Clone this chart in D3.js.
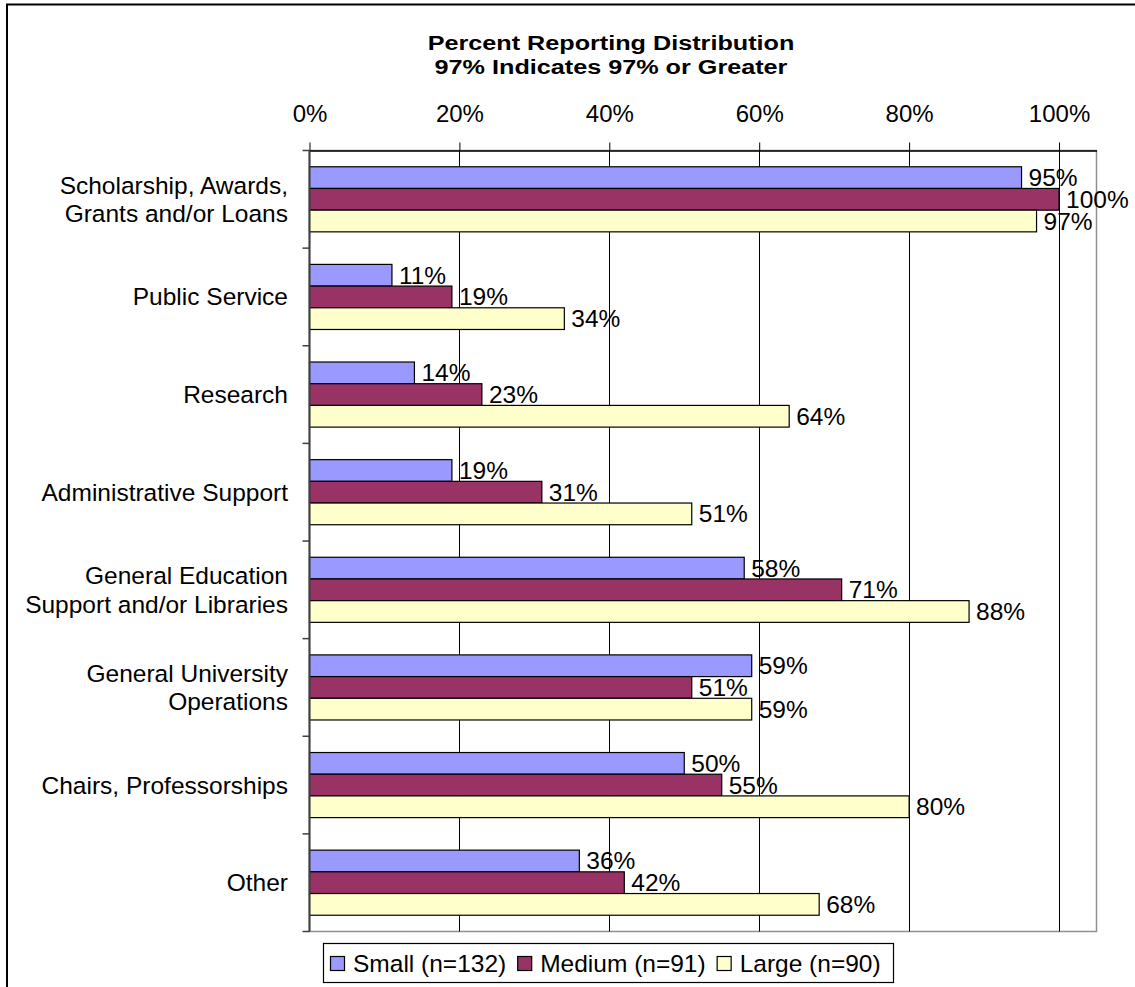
<!DOCTYPE html>
<html>
<head>
<meta charset="utf-8">
<script src="https://cdn.jsdelivr.net/npm/d3@7"></script>
<style>
  html, body { margin: 0; padding: 0; background: #fff; }
  svg { display: block; }
  text { font-family: Arial, "Liberation Sans", sans-serif; fill: #000; }
</style>
</head>
<body>
<svg id="chart" width="1135" height="987"></svg>
<script>
// Funding purposes reported, by institution size
const categories = [
  "Scholarship, Awards,\nGrants and/or Loans",
  "Public Service",
  "Research",
  "Administrative Support",
  "General Education\nSupport and/or Libraries",
  "General University\nOperations",
  "Chairs, Professorships",
  "Other"
];
const seriesNames = ["Small (n=132)", "Medium (n=91)", "Large (n=90)"];
const seriesColors = ["#9999FF", "#993366", "#FFFFCC"];
const small  = [0.95, 0.11, 0.14, 0.19, 0.58, 0.59, 0.50, 0.36];
const medium = [1.00, 0.19, 0.23, 0.31, 0.71, 0.51, 0.55, 0.42];
const large  = [0.97, 0.34, 0.64, 0.51, 0.88, 0.59, 0.80, 0.68];
const tickValues = [0, 0.2, 0.4, 0.6, 0.8, 1.0];
const titleLines = ["Percent Reporting Distribution", "97% Indicates 97% or Greater"];

const seriesValues = [small, medium, large];
const fontSize = 24.5;

const svg = d3.select("#chart");
const plot = { left: 309.5, right: 1096.5, top: 150.5, bottom: 931.5 };

// Chart frame
svg.append("rect")
  .attr("x", 7).attr("y", 4.5).attr("width", 1200).attr("height", 1100)
  .attr("fill", "#fff").attr("stroke", "#000").attr("stroke-width", 2);

const x = d3.scaleLinear().domain([0, 1.05]).range([plot.left, plot.right]);
const y0 = d3.scaleBand().domain(d3.range(categories.length)).range([plot.top, plot.bottom]);
const y1 = d3.scaleBand().domain(d3.range(seriesNames.length))
  .range([0, y0.bandwidth()]).paddingInner(0).paddingOuter(0.75);

// Plot area border
svg.append("rect")
  .attr("x", plot.left).attr("y", plot.top)
  .attr("width", plot.right - plot.left).attr("height", plot.bottom - plot.top)
  .attr("fill", "#fff").attr("stroke", "#909090").attr("stroke-width", 1.5);

// Vertical gridlines
svg.append("g").selectAll("line")
  .data(tickValues.filter(d => d > 0))
  .join("line")
  .attr("x1", d => Math.round(x(d)) + 0.5).attr("x2", d => Math.round(x(d)) + 0.5)
  .attr("y1", plot.top).attr("y2", plot.bottom)
  .attr("stroke", "#000").attr("stroke-width", 1);

// Bars
const groups = svg.append("g").selectAll("g")
  .data(categories.map((c, i) => i))
  .join("g")
  .attr("transform", i => `translate(0,${y0(i)})`);

groups.selectAll("rect")
  .data(i => seriesValues.map((vals, s) => ({ s, v: vals[i] })))
  .join("rect")
  .attr("x", plot.left)
  .attr("y", d => y1(d.s))
  .attr("width", d => x(d.v) - x(0))
  .attr("height", y1.bandwidth())
  .attr("fill", d => seriesColors[d.s])
  .attr("stroke", "#000").attr("stroke-width", 1.2);

// Value labels
groups.selectAll("text")
  .data(i => seriesValues.map((vals, s) => ({ s, v: vals[i] })))
  .join("text")
  .attr("x", d => x(d.v) + 7)
  .attr("y", d => y1(d.s) + y1.bandwidth() / 2 + 8.5)
  .attr("font-size", fontSize)
  .text(d => d3.format(".0%")(d.v));

// Value axis along the top
const xAxis = d3.axisTop(x).tickValues(tickValues)
  .tickFormat(d3.format(".0%")).tickSize(8).tickSizeOuter(0).tickPadding(21);
const gx = svg.append("g").attr("transform", `translate(0,${plot.top})`).call(xAxis);
gx.select(".domain").attr("stroke", "#000").attr("stroke-width", 1.5);
gx.selectAll(".tick line").attr("stroke", "#000");
gx.selectAll(".tick text").attr("font-size", 24).attr("font-family", null).attr("fill", "#000");

// Category axis on the left
svg.append("line")
  .attr("x1", plot.left).attr("x2", plot.left)
  .attr("y1", plot.top).attr("y2", plot.bottom)
  .attr("stroke", "#404040").attr("stroke-width", 2);
const boundaries = categories.map((c, i) => y0(i)).concat([y0.range()[1]]);
svg.append("g").selectAll("line")
  .data(boundaries)
  .join("line")
  .attr("x1", plot.left - 7).attr("x2", plot.left)
  .attr("y1", d => d).attr("y2", d => d)
  .attr("stroke", "#404040").attr("stroke-width", 1.5);

const catLabels = svg.append("g").selectAll("text")
  .data(categories)
  .join("text")
  .attr("text-anchor", "end")
  .attr("font-size", fontSize)
  .attr("transform", (c, i) => `translate(288,${y0(i) + y0.bandwidth() / 2})`);
catLabels.each(function(c) {
  const lines = c.split("\n");
  const lh = 28.5;
  const start = -((lines.length - 1) * lh) / 2 + 8.5;
  d3.select(this).selectAll("tspan")
    .data(lines)
    .join("tspan")
    .attr("x", 0)
    .attr("y", (l, k) => start + k * lh)
    .text(l => l);
});

// Title (set slightly wide)
svg.append("g").selectAll("text")
  .data(titleLines)
  .join("text")
  .attr("transform", (d, i) => `translate(611,${50 + i * 24}) scale(1.2,1)`)
  .attr("text-anchor", "middle")
  .attr("font-size", 21)
  .attr("font-weight", "bold")
  .text(d => d);

// Legend
const legend = svg.append("g");
legend.append("rect")
  .attr("x", 323.5).attr("y", 943.5).attr("width", 570).attr("height", 39)
  .attr("fill", "#fff").attr("stroke", "#000").attr("stroke-width", 1.2);
let lx = 330;
seriesNames.forEach((name, s) => {
  legend.append("rect")
    .attr("x", lx + 0.5).attr("y", 956.5).attr("width", 14).attr("height", 14)
    .attr("fill", seriesColors[s]).attr("stroke", "#000").attr("stroke-width", 1.2);
  const t = legend.append("text")
    .attr("x", lx + 23).attr("y", 972)
    .attr("font-size", fontSize)
    .text(name);
  lx += 23 + t.node().getComputedTextLength() + 11;
});
</script>
</body>
</html>
